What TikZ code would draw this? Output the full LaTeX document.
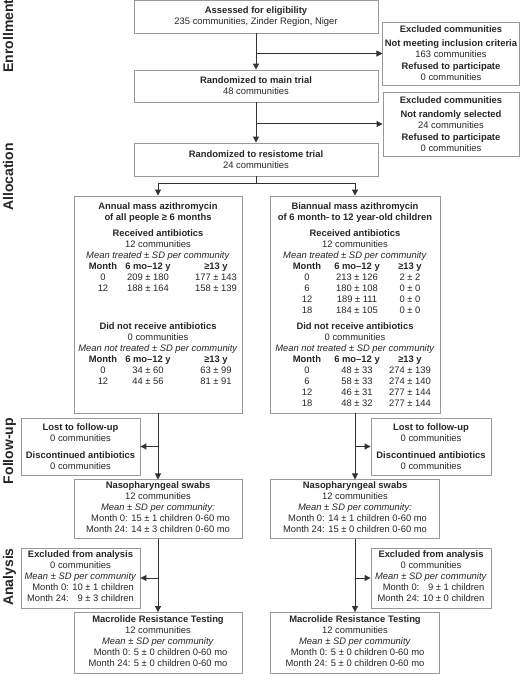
\documentclass[tikz,border=0pt]{standalone}
\usepackage{fontspec}
\setmainfont{Liberation Sans}
\usetikzlibrary{arrows.meta, positioning, calc}

% table rows of the two arm boxes (zero width, columns set by hand)
\newcommand{\annrow}[3]{\makebox[0pt]{\hspace*{26pt}\makebox[40pt]{#1}\makebox[50pt]{#2}\makebox[86pt]{#3}}}
\newcommand{\biarow}[3]{\makebox[0pt]{\hspace*{10pt}\makebox[44pt]{#1}\makebox[56pt]{#2}\makebox[50pt]{#3}}}

\begin{document}
\begin{tikzpicture}[
  x=1pt, y=-1pt,
  font=\fontsize{9.4}{11}\selectfont,
  every node/.style={text=black!85},
  box/.style={draw=black!40, line width=0.9pt, align=center, inner xsep=2pt, inner ysep=2pt},
  wide/.style={box, minimum width=244pt},
  excl/.style={box, minimum width=136pt},
  arm/.style={box, minimum width=168pt, minimum height=217pt},
  side/.style={box, minimum width=119pt},
  arrow/.style={-{Triangle[length=6pt, width=6pt]}, line width=1pt, draw=black!80},
  phase/.style={font=\fontsize{14}{16}\selectfont\bfseries, rotate=90, text height=10pt, text depth=3pt, inner sep=0pt}
]
\useasboundingbox (0,0) rectangle (520,674);

% === PHASE LABELS ===
\node[phase] (enroll) at (9.5,36)  {Enrollment};
\node[phase] (alloc)  at (9.5,177) {Allocation};
\node[phase] (follow) at (9.5,451) {Follow-up};
\node[phase] (analys) at (9.5,577) {Analysis};

% === ENROLLMENT ===
\node[wide, minimum height=33pt] (assess) at (256,16.5)
  {\textbf{Assessed for eligibility}\\235 communities, Zinder Region, Niger};
\node[excl, minimum height=63pt] (excl1) at (451,53.5)
  {\textbf{Excluded communities}\\[3pt]
   \textbf{Not meeting inclusion criteria}\\163 communities\\[1pt]
   \textbf{Refused to participate}\\0 communities};
\node[wide, minimum height=32pt] (mainrand) at (256,86)
  {\textbf{Randomized to main trial}\\48 communities};
\node[excl, minimum height=64pt] (excl2) at (451,124)
  {\textbf{Excluded communities}\\[3pt]
   \textbf{Not randomly selected}\\24 communities\\[1pt]
   \textbf{Refused to participate}\\0 communities};
\node[wide, minimum height=33pt] (resist) at (256,159.5)
  {\textbf{Randomized to resistome trial}\\24 communities};

\draw[arrow] (assess.south) -- (mainrand.north);
\draw[arrow] (assess.south |- excl1.west) -- (excl1.west);
\draw[arrow] (mainrand.south) -- (resist.north);
\draw[arrow] (mainrand.south |- excl2.west) -- (excl2.west);

% === ALLOCATION ===
\node[arm] (annual) at (158,304.5)
  {\textbf{Annual mass azithromycin}\\
   \textbf{of all people ≥ 6 months}\\[5pt]
   \textbf{Received antibiotics}\\
   12 communities\\
   \textit{Mean treated ± SD per community}\\
   \annrow{\textbf{Month}}{\textbf{6 mo–12 y}}{\textbf{≥13 y}}\\
   \annrow{0}{209 ± 180}{177 ± 143}\\
   \annrow{12}{188 ± 164}{158 ± 139}\\[27pt]
   \textbf{Did not receive antibiotics}\\
   0 communities\\
   \textit{Mean not treated ± SD per community}\\
   \annrow{\textbf{Month}}{\textbf{6 mo–12 y}}{\textbf{≥13 y}}\\
   \annrow{0}{34 ± 60}{63 ± 99}\\
   \annrow{12}{44 ± 56}{81 ± 91}\\[11pt]
   \mbox{}};
\node[arm, minimum width=170pt] (biann) at (355,304.5)
  {\textbf{Biannual mass azithromycin}\\
   \textbf{of 6 month- to 12 year-old children}\\[5pt]
   \textbf{Received antibiotics}\\
   12 communities\\
   \textit{Mean treated ± SD per community}\\
   \biarow{\textbf{Month}}{\textbf{6 mo–12 y}}{\textbf{≥13 y}}\\
   \biarow{0}{213 ± 126}{2 ± 2}\\
   \biarow{6}{180 ± 108}{0 ± 0}\\
   \biarow{12}{189 ± 111}{0 ± 0}\\
   \biarow{18}{184 ± 105}{0 ± 0}\\[5pt]
   \textbf{Did not receive antibiotics}\\
   0 communities\\
   \textit{Mean not treated ± SD per community}\\
   \biarow{\textbf{Month}}{\textbf{6 mo–12 y}}{\textbf{≥13 y}}\\
   \biarow{0}{48 ± 33}{274 ± 139}\\
   \biarow{6}{58 ± 33}{274 ± 140}\\
   \biarow{12}{46 ± 31}{277 ± 144}\\
   \biarow{18}{48 ± 32}{277 ± 144}};

\draw[arrow] (resist.south) -- ++(0,7) -| (annual.north);
\draw[arrow] (resist.south) -- ++(0,7) -| (biann.north);

% === FOLLOW-UP ===
\node[side, minimum height=57pt] (lostL) at (80.5,446.5)
  {\textbf{Lost to follow-up}\\0 communities\\[6pt]
   \textbf{Discontinued antibiotics}\\0 communities};
\node[side, minimum width=120pt, minimum height=57pt] (lostR) at (431,446.5)
  {\textbf{Lost to follow-up}\\0 communities\\[6pt]
   \textbf{Discontinued antibiotics}\\0 communities};
\node[box, minimum width=168pt, minimum height=58pt] (nasoL) at (158,509)
  {\textbf{Nasopharyngeal swabs}\\12 communities\\
   \textit{Mean ± SD per community:}\\
   \begin{tabular}[t]{@{}r@{}}Month 0: 15 ± 1 children 0-60 mo\\Month 24: 14 ± 3 children 0-60 mo\end{tabular}};
\node[box, minimum width=169pt, minimum height=58pt] (nasoR) at (355,509)
  {\textbf{Nasopharyngeal swabs}\\12 communities\\
   \textit{Mean ± SD per community:}\\
   \begin{tabular}[t]{@{}r@{}}Month 0: 14 ± 1 children 0-60 mo\\Month 24: 15 ± 0 children 0-60 mo\end{tabular}};

\draw[arrow] (annual.south) -- (nasoL.north);
\draw[arrow] (annual.south |- lostL.east) -- (lostL.east);
\draw[arrow] (biann.south) -- (nasoR.north);
\draw[arrow] (biann.south |- lostR.west) -- (lostR.west);

% === ANALYSIS ===
\node[side, minimum height=60pt] (exclL) at (80.5,578)
  {\textbf{Excluded from analysis}\\0 communities\\
   \textit{Mean ± SD per community}\\
   \begin{tabular}[t]{@{}r@{}}Month 0: 10 ± 1 children\\Month 24: \phantom{0}9 ± 3 children\end{tabular}};
\node[side, minimum width=120pt, minimum height=60pt] (exclR) at (431,578)
  {\textbf{Excluded from analysis}\\0 communities\\
   \textit{Mean ± SD per community}\\
   \begin{tabular}[t]{@{}r@{}}Month 0: \phantom{0}9 ± 1 children\\Month 24: 10 ± 0 children\end{tabular}};
\node[box, minimum width=168pt, minimum height=61pt] (macL) at (158,643)
  {\textbf{Macrolide Resistance Testing}\\12 communities\\
   \textit{Mean ± SD per community}\\
   \begin{tabular}[t]{@{}r@{}}Month 0: 5 ± 0 children 0-60 mo\\Month 24: 5 ± 0 children 0-60 mo\end{tabular}};
\node[box, minimum width=169pt, minimum height=61pt] (macR) at (355,643)
  {\textbf{Macrolide Resistance Testing}\\12 communities\\
   \textit{Mean ± SD per community}\\
   \begin{tabular}[t]{@{}r@{}}Month 0: 5 ± 0 children 0-60 mo\\Month 24: 5 ± 0 children 0-60 mo\end{tabular}};

\draw[arrow] (nasoL.south) -- (macL.north);
\draw[arrow] (nasoL.south |- exclL.east) -- (exclL.east);
\draw[arrow] (nasoR.south) -- (macR.north);
\draw[arrow] (nasoR.south |- exclR.west) -- (exclR.west);

\end{tikzpicture}
\end{document}
